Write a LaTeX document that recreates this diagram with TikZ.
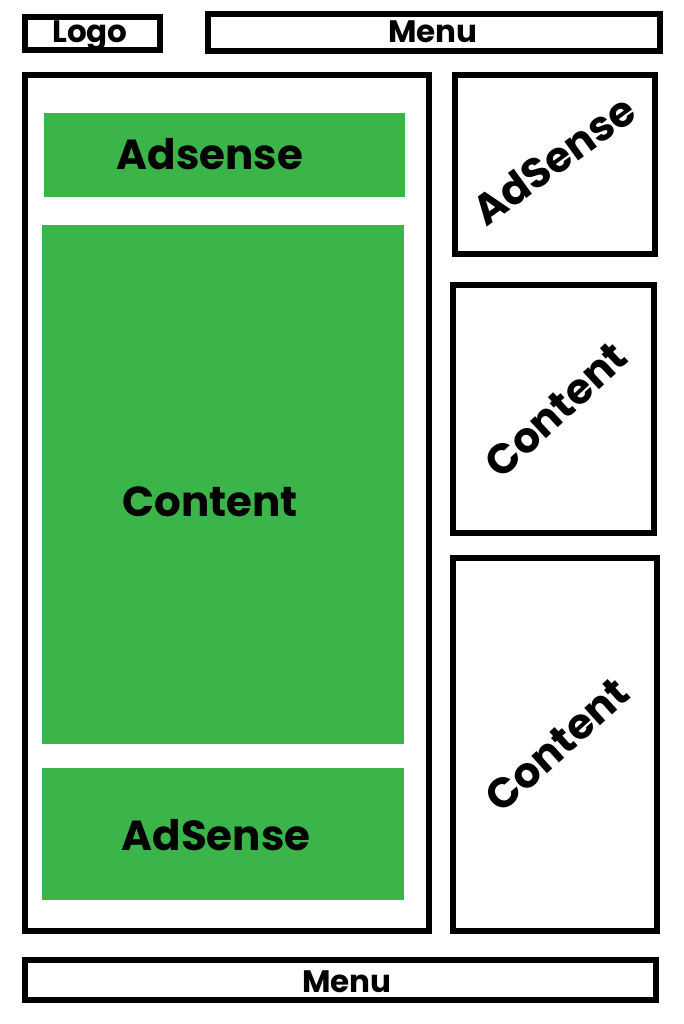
\documentclass[tikz,border=0pt]{standalone}
\usepackage{fontspec}
\setmainfont{Poppins}
\definecolor{adgreen}{RGB}{59,181,74}
\tikzset{
  frame/.style={draw=black, line width=6pt, fill=white},
  greenbox/.style={fill=adgreen, draw=none},
  bigtext/.style={font=\bfseries\fontsize{42}{44}\selectfont, inner sep=0pt},
  smalltext/.style={font=\bfseries\fontsize{31}{33}\selectfont, inner sep=0pt, anchor=base},
}
\begin{document}
\begin{tikzpicture}[x=1pt,y=-1pt]
\useasboundingbox (0,0) rectangle (683,1024);
% top bar
\draw[frame] (25,17) rectangle (160,50);
\node[smalltext] (logo) at (90,43) {Logo};
\draw[frame] (208,14) rectangle (660,51);
\node[smalltext] (menutop) at (433,43) {Menu};
% main column
\draw[frame] (25,75) rectangle (429,931);
\fill[greenbox] (44,113) rectangle (405,197);
\node[bigtext, anchor=base] (ads1) at (210,170) {Adsense};
\fill[greenbox] (42,225) rectangle (404,744);
\node[bigtext, anchor=base] (content) at (210,516) {Content};
\fill[greenbox] (42,768) rectangle (404,900);
\node[bigtext, anchor=base] (ads2) at (216,850) {AdSense};
% sidebar
\draw[frame] (455,75) rectangle (655,254);
\node[bigtext, rotate=36] (sideads) at (554,160) {AdSense};
\draw[frame] (453,285) rectangle (654,533);
\node[bigtext, rotate=43] (sidec1) at (556,410) {Content};
\draw[frame] (453,558) rectangle (657,931);
\node[bigtext, rotate=42] (sidec2) at (557,745) {Content};
% bottom menu
\draw[frame] (25,960) rectangle (656,1000);
\node[smalltext] (menubot) at (347,992) {Menu};
\end{tikzpicture}
\end{document}
